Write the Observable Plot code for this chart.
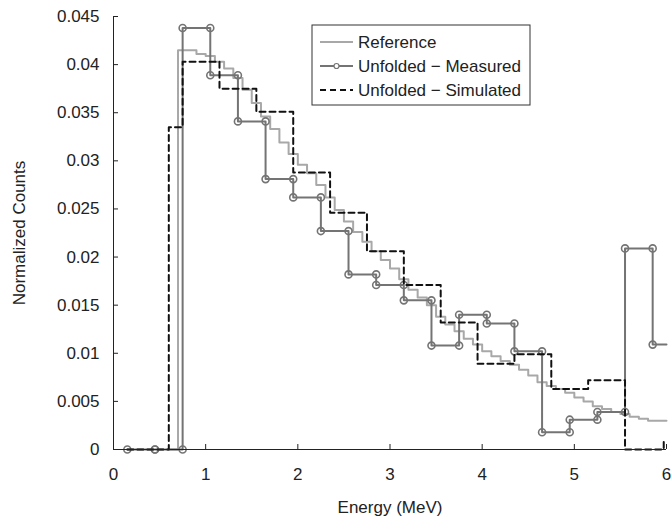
<!DOCTYPE html>
<html><head><meta charset="utf-8">
<script src="https://cdn.jsdelivr.net/npm/d3@7"></script>
<script src="https://cdn.jsdelivr.net/npm/@observablehq/plot@0.6"></script>
<style>
body{margin:0;background:#fff;}
#chart svg{display:block;}
</style></head><body><div id="chart"></div>
<script>
// Reference spectrum: 0.1 MeV bins (edges) and normalized counts
const referenceEdges = [0.6,0.7,0.8,0.9,1.0,1.1,1.2,1.3,1.4,1.5,1.6,1.7,1.8,1.9,2.0,2.1,2.2,2.3,2.4,2.5,2.6,2.7,2.8,2.9,3.0,3.1,3.2,3.3,3.4,3.5,3.6,3.7,3.8,3.9,4.0,4.1,4.2,4.3,4.4,4.5,4.6,4.7,4.8,4.9,5.0,5.1,5.2,5.3,5.4,5.5,5.6,5.7,5.8,5.9,6.0];
const referenceValues = [0,0.0415,0.0415,0.0411,0.0409,0.0403,0.0396,0.0386,0.0374,0.0360,0.0346,0.0333,0.0319,0.0307,0.0296,0.0287,0.0275,0.0262,0.0249,0.0237,0.0226,0.0216,0.0206,0.0197,0.0188,0.0177,0.0166,0.0158,0.0150,0.0138,0.0130,0.0123,0.0115,0.0109,0.0102,0.0097,0.0092,0.0088,0.0083,0.0077,0.0070,0.0066,0.0063,0.0059,0.0054,0.0050,0.0045,0.0042,0.0039,0.0037,0.0034,0.0032,0.0030,0.0030];

// Unfolded - Measured: 0.3 MeV bins
const measuredEdges = [0.15,0.45,0.75,1.05,1.35,1.65,1.95,2.25,2.55,2.85,3.15,3.45,3.75,4.05,4.35,4.65,4.95,5.25,5.55,5.85,6.15];
const measuredValues = [0,0,0.0438,0.0389,0.0341,0.0281,0.0262,0.0227,0.0182,0.0171,0.0155,0.0108,0.0140,0.0131,0.0102,0.0018,0.0031,0.0039,0.0209,0.0109];

// Unfolded - Simulated: 0.4 MeV bins
const simulatedEdges = [0.15,0.6,0.75,1.15,1.55,1.95,2.35,2.75,3.15,3.55,3.95,4.35,4.75,5.15,5.55,5.97,6.2];
const simulatedValues = [0,0.0335,0.0403,0.0375,0.0351,0.0288,0.0246,0.0206,0.0171,0.0132,0.0089,0.0099,0.0063,0.0072,0,0.0008];

const xTicks = [0,1,2,3,4,5,6];
const xTickLabels = ["0","1","2","3","4","5","6"];
const yTicks = [0,0.005,0.01,0.015,0.02,0.025,0.03,0.035,0.04,0.045];
const yTickLabels = ["0","0.005","0.01","0.015","0.02","0.025","0.03","0.035","0.04","0.045"];
const seriesNames = ["Reference","Unfolded \u2212 Measured","Unfolded \u2212 Simulated"];

const X_MAX = 6;
function steps(edges, values){
  const pts = [];
  values.forEach((v,i)=>{
    pts.push({E: Math.min(edges[i], X_MAX), v});
    pts.push({E: Math.min(edges[i+1], X_MAX), v});
  });
  return pts;
}
function binEnds(edges, values){
  const pts = [];
  values.forEach((v,i)=>{
    if (edges[i] <= X_MAX) pts.push({E: edges[i], v});
    if (edges[i+1] <= X_MAX) pts.push({E: edges[i+1], v});
  });
  return pts;
}

const FONT = "'Liberation Sans', Arial, Helvetica, sans-serif";
const FS = 17;
const colRef = "#a8a8a8", colMeas = "#747474", colSim = "#111111";

const chart = Plot.plot({
  width: 672, height: 524,
  marginLeft: 113, marginRight: 6, marginTop: 16, marginBottom: 75,
  style: {fontFamily: FONT, fontSize: FS + "px", color: "#222", background: "#fff"},
  x: {domain: [0, 6]},
  y: {domain: [0, 0.045]},
  marks: [
    Plot.line(steps(referenceEdges, referenceValues), {x: "E", y: "v", stroke: colRef, strokeWidth: 2}),
    Plot.line(steps(measuredEdges, measuredValues), {x: "E", y: "v", stroke: colMeas, strokeWidth: 2}),
    Plot.dot(binEnds(measuredEdges, measuredValues), {x: "E", y: "v", r: 3.5, stroke: colMeas, strokeWidth: 1.6, fill: "none"}),
    Plot.line(steps(simulatedEdges, simulatedValues), {x: "E", y: "v", stroke: colSim, strokeWidth: 2, strokeDasharray: "6,4"}),
    Plot.ruleX([0], {stroke: "#222", strokeWidth: 1}),
    Plot.ruleY([0], {stroke: "#222", strokeWidth: 1}),
    Plot.axisX({ticks: xTicks, tickFormat: (d) => xTickLabels[xTicks.indexOf(d)], tickSize: -5, tickPadding: 23, fontSize: FS, label: "Energy (MeV)", labelArrow: "none", labelAnchor: "center", labelOffset: 63, stroke: "#222"}),
    Plot.axisY({ticks: yTicks, tickFormat: (d) => yTickLabels[yTicks.indexOf(d)], tickSize: -5, tickPadding: 19, fontSize: FS, label: "Normalized Counts", labelArrow: "none", labelAnchor: "center", labelOffset: 101, stroke: "#222"})
  ]
});
document.getElementById("chart").appendChild(chart);

// Legend (MATLAB-style box inside the axes)
const svg = d3.select(chart);
const lg = svg.append("g").attr("font-family", FONT).attr("font-size", FS).attr("fill", "#222").attr("text-anchor", "start");
const bx = 312, by = 25, bw = 218, bh = 80, rowY = [42, 66, 90];
lg.append("rect").attr("x", bx).attr("y", by).attr("width", bw).attr("height", bh)
  .attr("fill", "#fff").attr("stroke", "#333").attr("stroke-width", 1);
const sampleX1 = 320, sampleX2 = 353, textX = 358;
const styles = [
  {stroke: colRef, dash: null, marker: false},
  {stroke: colMeas, dash: null, marker: true},
  {stroke: colSim, dash: "6,4", marker: false}
];
seriesNames.forEach((name, i) => {
  const s = styles[i];
  const ln = lg.append("line").attr("x1", sampleX1).attr("x2", sampleX2).attr("y1", rowY[i]).attr("y2", rowY[i])
    .attr("stroke", s.stroke).attr("stroke-width", 2);
  if (s.dash) ln.attr("stroke-dasharray", s.dash);
  if (s.marker) lg.append("circle").attr("cx", (sampleX1 + sampleX2) / 2).attr("cy", rowY[i]).attr("r", 2.5)
    .attr("fill", "#fff").attr("stroke", s.stroke).attr("stroke-width", 1.2);
  lg.append("text").attr("x", textX).attr("y", rowY[i]).attr("dy", "0.35em").attr("text-anchor", "start").style("white-space", "pre").text(name);
});
</script>
</body></html>
